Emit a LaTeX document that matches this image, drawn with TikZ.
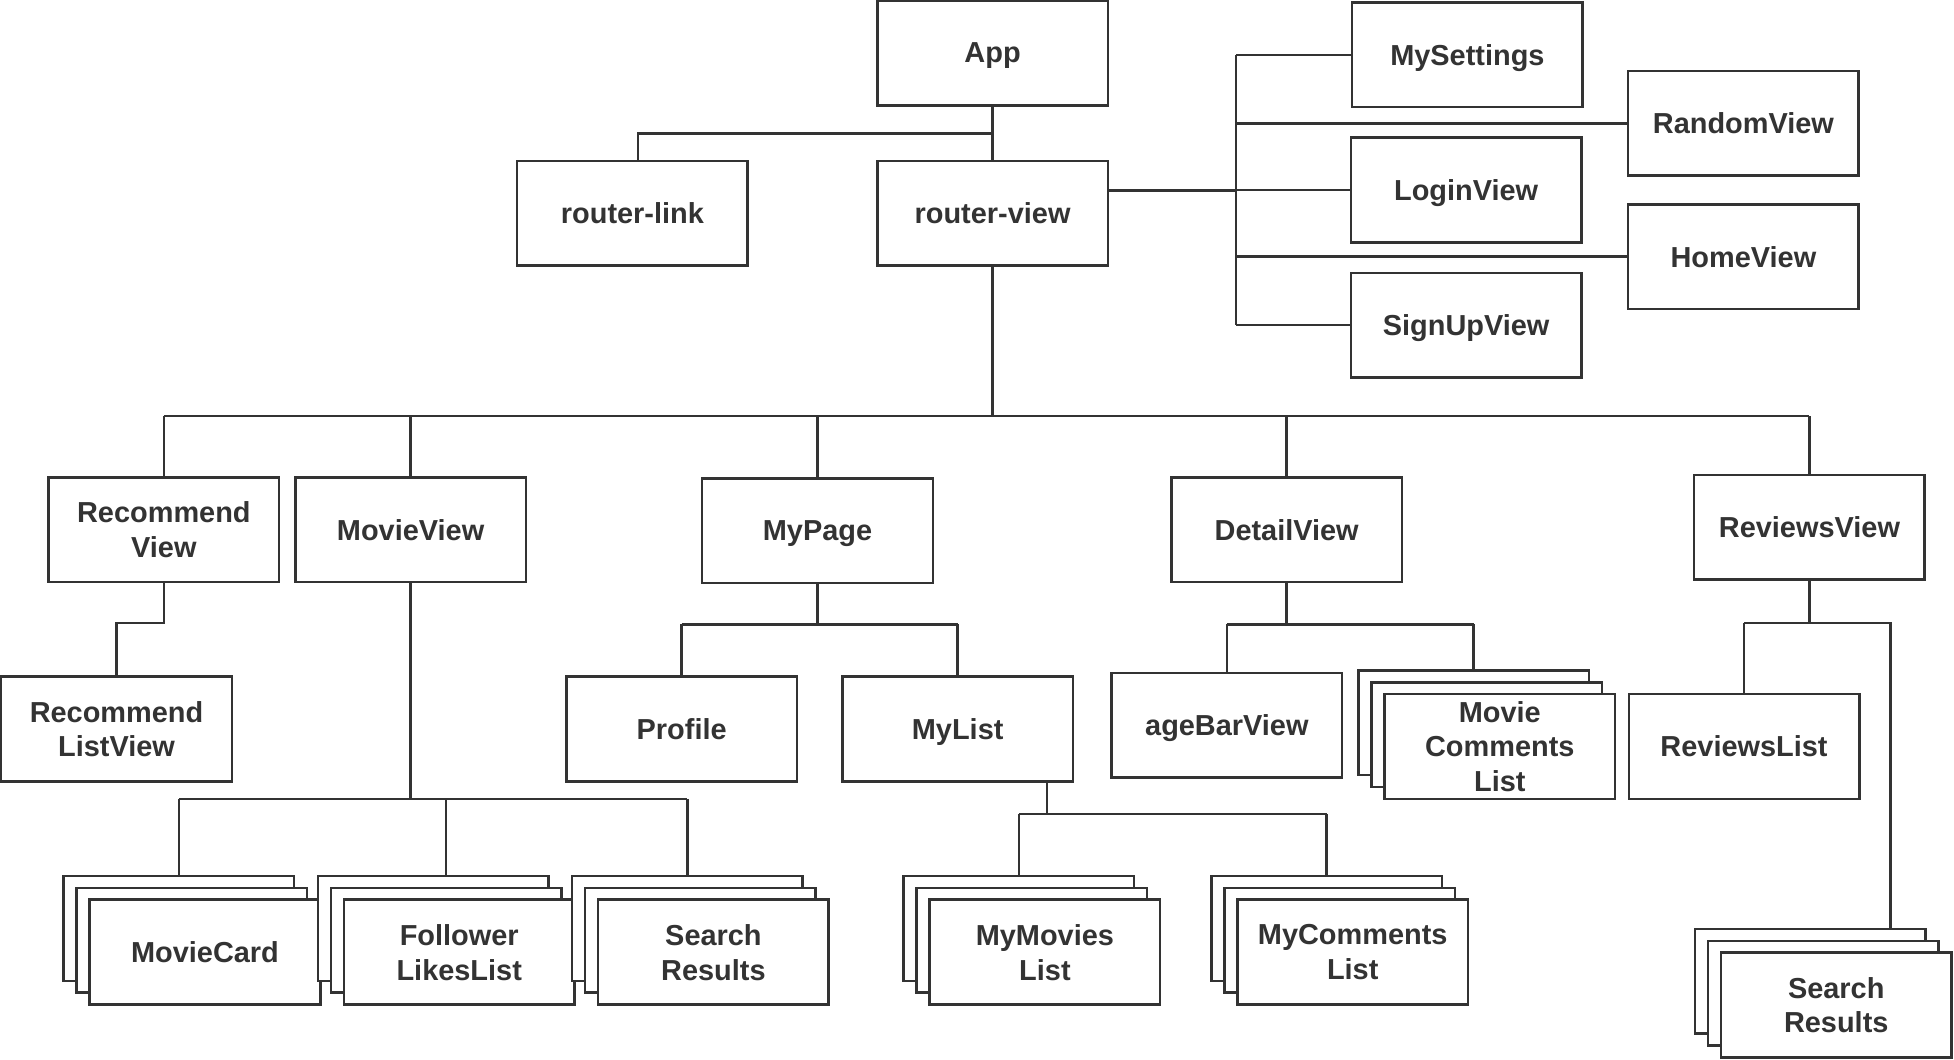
\documentclass[tikz,border=0pt]{standalone}
\usepackage{fontspec}
\setmainfont{Liberation Sans}
\definecolor{ink}{HTML}{333333}
\newcommand\stackbox[4]{%
  \node[sheet] (#1-b) at ({#2-21},{#3-19}) {};
  \node[sheet] (#1-m) at ({#2-10.5},{#3-9.5}) {};
  \node[box] (#1) at (#2,#3) {#4};}
\begin{document}
\begin{tikzpicture}[x=0.5pt,y=-0.5pt,
  sheet/.style={draw=ink,line width=1pt,fill=white,minimum width=92.5pt,minimum height=42pt,inner sep=0pt},
  box/.style={sheet,align=center,font=\fontsize{11.6}{14}\selectfont\bfseries,text=ink,text depth=0pt},
  link/.style={draw=ink,line width=1pt}]
\useasboundingbox (0,0) rectangle (1568,850);
% top level
\node[box] (app) at (796.5,42.5) {App};
\node[box] (rlink) at (507.5,171) {router-link};
\node[box] (rview) at (796.5,171) {router-view};
\node[box] (settings) at (1177.5,44) {MySettings};
\node[box] (random) at (1399,99) {RandomView};
\node[box] (login) at (1176.5,152.5) {LoginView};
\node[box] (home) at (1399,206) {HomeView};
\node[box] (signup) at (1176.5,261) {SignUpView};
% second level
\node[box] (recv) at (131.5,425) {Recommend\\View};
\node[box] (moviev) at (329.5,425) {MovieView};
\node[box] (mypage) at (656,426) {MyPage};
\node[box] (detail) at (1032.5,425) {DetailView};
\node[box] (reviews) at (1452,423) {ReviewsView};
% third level
\node[box] (reclist) at (93.5,585) {Recommend\\ListView};
\node[box] (profile) at (547,585) {Profile};
\node[box] (mylist) at (768.5,585) {MyList};
\node[box] (agebar) at (984.5,582) {ageBarView};
\node[box] (revlist) at (1399.5,599) {ReviewsList};
\stackbox{mcomments}{1203.5}{599}{Movie\\Comments\\List}
% fourth level
\stackbox{moviecard}{164.5}{764}{MovieCard}
\stackbox{follower}{368.5}{764}{Follower\\LikesList}
\stackbox{search}{572.5}{764}{Search\\Results}
\stackbox{mymovies}{838.5}{764}{MyMovies\\List}
\stackbox{mycomm}{1085.5}{764}{MyComments\\List}
\stackbox{search2}{1473.5}{806.5}{Search\\Results}
% connectors: App
\draw[link] (app.south) -- (rview.north);
\coordinate (j0) at (796.5,107);
\coordinate (c1) at (512,107);
\draw[link] (j0) -- (c1) -- (c1 |- rlink.north);
% router-view to right column
\coordinate (rb) at (992,153);
\draw[link] (rview.east |- rb) -- (rb);
\draw[link] (settings.west -| rb) -- (signup.west -| rb);
\foreach \n in {settings,random,login,home,signup}
  \draw[link] (\n.west -| rb) -- (\n.west);
% router-view to second level
\coordinate (mb) at (796.5,334);
\draw[link] (rview.south) -- (mb);
\draw[link] (recv.north |- mb) -- (reviews.north |- mb);
\foreach \n in {recv,moviev,mypage,detail,reviews}
  \draw[link] (\n.north |- mb) -- (\n.north);
% RecommendView
\coordinate (r1) at (131.5,500);
\draw[link] (recv.south) -- (r1) -- (r1 -| reclist.north) -- (reclist.north);
% MovieView
\coordinate (m1) at (329.5,641);
\draw[link] (moviev.south) -- (m1);
\draw[link] (moviecard-b.north |- m1) -- (search-b.north |- m1);
\draw[link] (moviecard-b.north |- m1) -- (moviecard-b.north);
\draw[link] (follower-m.north |- m1) -- (follower-m.north |- follower-b.north);
\draw[link] (search-b.north |- m1) -- (search-b.north);
% MyPage
\coordinate (p1) at (656,501);
\draw[link] (mypage.south) -- (p1);
\draw[link] (profile.north |- p1) -- (mylist.north |- p1);
\draw[link] (profile.north |- p1) -- (profile.north);
\draw[link] (mylist.north |- p1) -- (mylist.north);
% MyList
\coordinate (l1) at (840,653);
\draw[link] (l1 |- mylist.south) -- (l1);
\draw[link] (mymovies-b.north |- l1) -- (mycomm-b.north |- l1);
\draw[link] (mymovies-b.north |- l1) -- (mymovies-b.north);
\draw[link] (mycomm-b.north |- l1) -- (mycomm-b.north);
% DetailView
\coordinate (d1) at (1032.5,501);
\draw[link] (detail.south) -- (d1);
\draw[link] (agebar.north |- d1) -- (mcomments-b.north |- d1);
\draw[link] (agebar.north |- d1) -- (agebar.north);
\draw[link] (mcomments-b.north |- d1) -- (mcomments-b.north);
% ReviewsView
\coordinate (v1) at (1452,500);
\coordinate (v2) at (1517,500);
\draw[link] (reviews.south) -- (v1);
\draw[link] (revlist.north |- v1) -- (v2) -- (v2 |- search2-b.north);
\draw[link] (revlist.north |- v1) -- (revlist.north);
\end{tikzpicture}
\end{document}
